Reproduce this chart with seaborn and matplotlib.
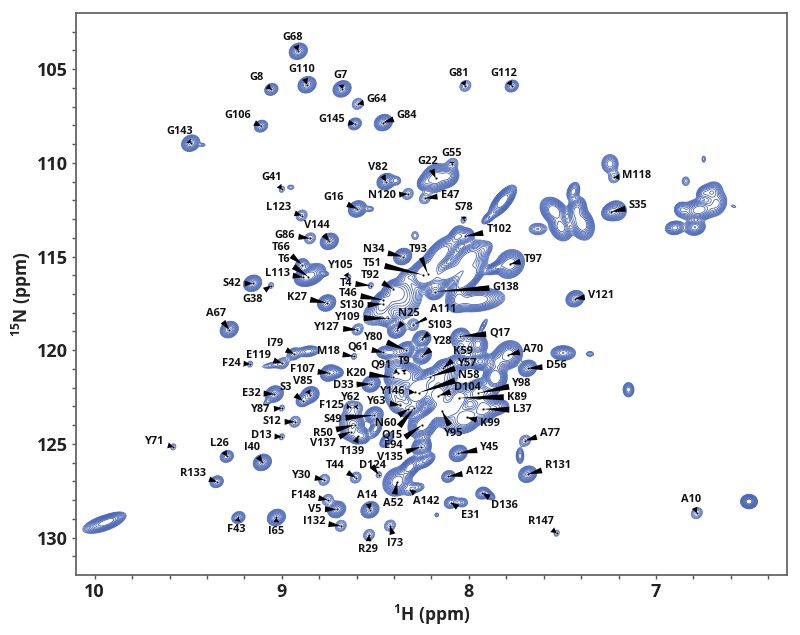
"""1H-15N HSQC spectrum with residue assignments."""

import matplotlib

matplotlib.use("Agg")
import matplotlib.pyplot as plt
import numpy as np
import seaborn as sns

# assigned peaks, ppm
names = [
    "G68", "G110", "G8", "G7", "G64", "G84", "G145", "G106", "G143", "G41",
    "V82", "G16", "N120", "G81", "G112", "G22", "G55", "M118", "E47", "S78",
    "S35", "T102", "T93", "T97", "N34", "T51", "G138", "A111", "N25", "S103",
    "Q17", "T4", "T92", "T46", "S130", "Y109", "Y127", "Y105", "K27", "A67",
    "G38", "S42", "L113", "T6", "T66", "G86", "V144", "L123", "V121", "I79",
    "E119", "F24", "M18", "Q61", "Y80", "Q91", "T9", "K20", "F107", "D33",
    "E32", "S3", "V85", "Y87", "Y146", "Y62", "F125", "Y63", "S12", "S49",
    "N60", "Q15", "R50", "V137", "T139", "D13", "T44", "D124", "Y30", "I40",
    "L26", "Y71", "R133", "F43", "I65", "F148", "V5", "I132", "A14", "R29",
    "I73", "A52", "Y28", "K59", "Y57", "N58", "D104", "Y98", "K89", "L37",
    "K99", "Y95", "A70", "D56", "E94", "V135", "Y45", "A122", "A77", "R131",
    "A142", "E31", "D136", "R147", "A10",
]
h_ppm = [
    8.912, 8.865, 9.056, 8.678, 8.594, 8.457, 8.610, 9.111, 9.487, 9.000,
    8.443, 8.596, 8.327, 8.019, 7.771, 8.178, 8.089, 7.223, 8.235, 8.028,
    7.242, 8.021, 8.220, 7.780, 8.354, 8.244, 8.181, 8.297, 8.386, 8.252,
    8.048, 8.525, 8.407, 8.457, 8.461, 8.431, 8.596, 8.645, 8.760, 9.281,
    9.058, 9.156, 8.885, 8.858, 8.892, 8.849, 8.746, 8.894, 7.433, 8.935,
    8.997, 9.170, 8.614, 8.457, 8.336, 8.379, 8.347, 8.404, 8.746, 8.523,
    9.040, 8.888, 8.849, 9.000, 8.288, 8.600, 8.635, 8.368, 8.930, 8.507,
    8.324, 8.293, 8.609, 8.632, 8.591, 9.000, 8.605, 8.482, 8.774, 9.104,
    9.294, 9.580, 9.348, 9.232, 9.029, 8.755, 8.707, 8.685, 8.529, 8.534,
    8.422, 8.383, 8.249, 8.137, 8.208, 8.267, 8.164, 7.950, 8.053, 7.923,
    8.012, 8.145, 7.790, 7.686, 8.249, 8.258, 8.057, 8.110, 7.700, 7.686,
    8.315, 8.096, 7.928, 7.531, 6.782,
]
n_ppm = [
    104.04, 105.83, 106.08, 106.05, 106.85, 107.85, 107.92, 108.04, 108.95, 111.41,
    111.00, 112.46, 111.66, 105.89, 105.90, 110.82, 110.05, 110.77, 111.89, 113.04,
    112.62, 113.92, 115.93, 115.40, 115.00, 115.98, 116.87, 118.65, 118.92, 119.40,
    119.26, 116.55, 116.73, 117.32, 117.53, 118.30, 118.90, 116.11, 117.48, 118.90,
    116.55, 116.43, 116.11, 116.08, 115.43, 114.03, 114.19, 112.81, 117.25, 120.20,
    120.70, 120.74, 120.33, 120.12, 119.99, 121.20, 121.20, 121.45, 121.22, 121.80,
    122.34, 122.70, 122.38, 123.09, 122.25, 123.09, 123.02, 122.93, 123.82, 123.46,
    123.14, 123.09, 123.98, 124.35, 124.57, 124.62, 126.80, 126.65, 126.92, 125.99,
    125.67, 125.16, 127.02, 128.93, 128.93, 127.99, 128.50, 129.38, 128.52, 129.86,
    129.36, 127.02, 120.29, 120.95, 121.42, 122.27, 122.43, 122.29, 122.55, 123.14,
    123.59, 123.23, 120.26, 120.97, 123.98, 125.16, 125.51, 126.74, 124.83, 126.62,
    127.45, 128.13, 127.63, 129.77, 128.70,
]

# where each assignment label sits, in figure pixels from the top left
label_x = [
    293, 302, 257, 341, 377, 407, 332, 238, 180, 272,
    378, 334, 382, 459, 504, 428, 452, 637, 450, 464,
    638, 499, 418, 533, 374, 372, 506, 443, 409, 440,
    500, 346, 370, 348, 352, 348, 327, 341, 297, 216,
    253, 232, 277, 284, 281, 285, 317, 279, 601, 275,
    258, 231, 328, 358, 374, 381, 404, 356, 302, 343,
    251, 286, 303, 261, 393, 351, 331, 377, 272, 333,
    386, 392, 323, 323, 352, 261, 335, 372, 302, 252,
    219, 155, 193, 236, 276, 303, 315, 314, 367, 368,
    395, 393, 443, 463, 468, 469, 467, 522, 517, 522,
    490, 454, 533, 556, 393, 390, 490, 479, 550, 558,
    426, 470, 504, 541, 691,
]
label_y = [
    37, 70, 78, 76, 100, 115, 120, 115, 132, 177,
    167, 198, 196, 73, 73, 161, 153, 176, 195, 208,
    206, 230, 249, 259, 250, 263, 287, 310, 314, 325,
    333, 283, 275, 294, 306, 318, 328, 265, 297, 313,
    299, 284, 273, 260, 247, 235, 226, 208, 295, 344,
    355, 363, 352, 347, 337, 365, 361, 373, 370, 385,
    393, 388, 382, 410, 391, 397, 406, 402, 422, 419,
    424, 435, 433, 444, 451, 436, 465, 466, 475, 448,
    443, 442, 474, 530, 531, 495, 509, 522, 495, 550,
    543, 503, 341, 352, 364, 376, 387, 384, 397, 410,
    423, 434, 349, 366, 446, 457, 448, 471, 433, 466,
    502, 516, 506, 521, 499,
]

# peak strength groups for the assigned peaks (everything else is "mid")
tiny_peaks = ["Y71", "G38", "D13", "Y87", "R147", "S78", "T4", "Y105", "F24",
              "M18", "D124", "Q61", "G41"]
weak_peaks = ["G81", "G64", "L123", "G86", "Y127", "A10", "A77", "Y30", "S12",
              "I132", "F148", "A111", "R29", "G55", "F125", "Y62", "T44", "E47",
              "N120", "A142", "I73", "M118", "E119"]
small_peaks = ["G8", "G112", "G106", "G145", "L26", "R133", "F43", "A122", "E31",
               "D136", "T66", "I79", "S3"]
big_peaks = ["T93", "T51", "D104", "K89", "L37", "K99", "Y95", "E94", "Y98", "N58",
             "Y146", "A52", "A70", "G22", "T97"]

# unassigned peaks and shoulders
extra_h = [
    7.442, 7.246, 6.745, 6.841, 6.585, 6.863, 6.770, 6.702, 6.748, 6.676,
    6.792, 6.899, 7.545, 7.508, 7.424, 7.397, 7.450, 7.632, 7.820, 7.896,
    8.113, 8.235, 8.386, 8.529, 8.952, 9.423, 7.210, 8.832, 8.769, 8.149,
    8.065, 8.288, 7.905, 8.324, 8.110, 8.003, 8.009, 7.958, 8.057, 7.851,
    8.386, 8.475, 7.950, 7.923, 8.422, 8.048, 7.940, 7.851, 7.860, 7.496,
    7.353, 7.147, 8.858, 9.045, 8.707, 9.080, 8.386, 8.332, 8.261, 8.092,
    8.208, 7.851, 7.887, 7.727, 8.315, 8.235, 8.280, 8.172, 8.038, 7.896,
    6.503, 9.954, 9.910, 8.440, 8.500, 8.560,
    8.207, 8.341, 8.155, 7.995, 8.048, 8.395, 8.235, 8.635,
]
extra_n = [
    111.53, 110.05, 109.80, 110.98, 112.32, 112.49, 112.51, 111.57, 111.62, 112.17,
    113.44, 113.47, 112.58, 113.44, 112.51, 113.26, 113.08, 113.53, 112.05, 112.94,
    110.71, 111.04, 110.95, 112.46, 111.30, 109.04, 112.55, 115.93, 115.93, 114.86,
    113.92, 113.88, 114.56, 116.07, 115.93, 115.13, 116.15, 117.32, 117.27, 115.58,
    117.00, 117.89, 119.67, 118.69, 120.12, 120.65, 120.60, 120.65, 121.45, 120.15,
    120.20, 122.11, 120.06, 120.79, 121.19, 122.79, 120.92, 121.45, 121.80, 123.14,
    123.59, 123.05, 122.25, 125.64, 126.26, 125.90, 127.33, 128.79, 128.13, 127.72,
    128.08, 129.25, 129.05, 124.80, 124.20, 124.60,
    115.64, 117.35, 121.63, 119.76, 123.76, 122.43, 125.10, 123.76,
]
extra_amp = [
    8, 8, 2, 2.5, 1.6, 8, 25, 14, 8, 12,
    14, 10, 30, 25, 20, 30, 4, 5, 30, 6,
    20, 10, 3, 2.5, 2, 1.8, 10, 15, 2.2, 30,
    14, 2.2, 3, 6, 30, 30, 40, 30, 20, 14,
    20, 15, 14, 3, 10, 12, 20, 14, 35, 14,
    2.5, 8, 8, 3, 6, 2, 10, 20, 20, 25,
    25, 12, 8, 6, 25, 12, 4, 1.8, 4, 6,
    25, 20, 10, 8, 8, 6,
    14, 12, 12, 6, 12, 8, 6, 10,
]
extra_sh = [
    .019, .024, .009, .016, .013, .021, .043, .027, .019, .027,
    .027, .027, .032, .027, .024, .029, .016, .029, .032, .021,
    .027, .021, .016, .016, .016, .013, .027, .032, .016, .043,
    .021, .016, .019, .027, .048, .048, .043, .064, .027, .032,
    .043, .043, .021, .016, .037, .032, .032, .021, .027, .032,
    .016, .016, .032, .043, .021, .016, .032, .037, .032, .037,
    .032, .032, .021, .012, .027, .027, .027, .011, .021, .021,
    .020, .050, .036, .020, .020, .016,
    .040, .045, .050, .050, .045, .030, .018, .030,
]
extra_sn = [
    .27, .27, .16, .19, .08, .21, .27, .27, .21, .32,
    .21, .19, .32, .32, .32, .37, .32, .19, .37, .19,
    .27, .21, .16, .11, .11, .08, .27, .27, .08, .43,
    .27, .19, .21, .21, .32, .43, .43, .27, .32, .19,
    .43, .37, .27, .27, .19, .21, .21, .27, .32, .19,
    .11, .21, .16, .13, .16, .16, .27, .32, .27, .32,
    .32, .21, .16, .24, .27, .21, .16, .11, .16, .16,
    .17, .24, .20, .21, .27, .21,
    .45, .50, .50, .30, .35, .35, .30, .35,
]
extra_tilt = [
    .3, .0, .0, .0, -.4, .0, .2, .2, .2, .2,
    .1, .1, -.3, -.2, .2, -.2, .0, .0, .7, .6,
    .1, .2, .0, .0, .0, .0, .0, .3, .0, .6,
    .3, .0, .3, .0, .5, .5, .7, .2, .2, .6,
    .5, .4, .0, .8, .0, .0, .0, .0, .0, .0,
    .0, .0, .2, .5, .0, .5, .0, .3, .5, .4,
    .7, .2, .0, .0, .5, .5, .2, .0, .0, -.5,
    .0, .6, .6, .5, .5, .0,
    .6, .3, .5, .0, .3, .0, .0, .2,
]

group_shapes = {
    "tiny": (2.0, 0.012, 0.14),
    "weak": (3.0, 0.020, 0.20),
    "small": (6.0, 0.019, 0.17),
    "mid": (12.0, 0.022, 0.20),
    "big": (28.0, 0.030, 0.30),
}

x_ticks = [10, 9, 8, 7]
y_ticks = [105, 110, 115, 120, 125, 130]
EXTRA_SCALE = 0.9


def _peak_group(name):
    for group, members in (("tiny", tiny_peaks), ("weak", weak_peaks),
                           ("small", small_peaks), ("big", big_peaks)):
        if name in members:
            return group
    return "mid"


def _spectrum(hh, nn):
    """Adds one tilted gaussian per peak on the ppm grid."""
    rows = [(h, n, *group_shapes[_peak_group(name)], 0.15)
            for name, h, n in zip(names, h_ppm, n_ppm)]
    rows += [(h, n, a, sh * EXTRA_SCALE, sn * EXTRA_SCALE, t)
             for h, n, a, sh, sn, t in zip(extra_h, extra_n, extra_amp,
                                           extra_sh, extra_sn, extra_tilt)]
    field = np.zeros_like(hh)
    for h0, n0, amp, sh, sn, tilt in rows:
        u = (hh - h0) / sh
        v = (nn - n0) / sn
        field += amp * np.exp(-0.5 * (u**2 + v**2 - 2 * tilt * u * v) / (1 - tilt**2))
    return field


sns.set_theme(style="ticks")
plt.rcParams.update({
    "font.family": ["Open Sans", "DejaVu Sans"],
    "font.weight": "bold",
    "axes.labelweight": "bold",
    "mathtext.fontset": "custom",
    "mathtext.bf": "Open Sans:bold",
    "mathtext.rm": "Open Sans:bold",
})

fig = plt.figure(figsize=(8, 6.35), dpi=100)
ax = fig.add_axes([76 / 800, 60 / 635, 711 / 800, 562 / 635])

h_axis = np.linspace(6.3, 10.1, 1250)
n_axis = np.linspace(102, 132, 950)
hh, nn = np.meshgrid(h_axis, n_axis)
levels = 1.0 * 1.3 ** np.arange(12)
ax.contour(hh, nn, _spectrum(hh, nn), levels=levels,
           colors=sns.blend_palette(["#4f6dbc", "#3a58ad"], len(levels)),
           linewidths=0.55)

sns.scatterplot(x=h_ppm, y=n_ppm, color="black", s=4, edgecolor="white",
                linewidth=0.4, ax=ax, legend=False, zorder=4)

for name, h, n, tx, ty in zip(names, h_ppm, n_ppm, label_x, label_y):
    px, py = ax.transData.transform((h, n))
    length = np.hypot(px - tx, py - (635 - ty))
    tail = min(0.55, 0.05 + 0.006 * length)
    ax.annotate(
        name, xy=(h, n), xytext=(tx, 635 - ty), textcoords="figure pixels",
        ha="center", va="center", fontsize=7.9, color="#111111", zorder=6,
        arrowprops=dict(arrowstyle=f"wedge,tail_width={tail:.2f},shrink_factor=0.5",
                        color="black", lw=0, shrinkA=0, shrinkB=0),
    )

ax.set_xlim(10.1, 6.3)
ax.set_ylim(132, 102)
ax.set_xticks(x_ticks)
ax.set_xticks(np.arange(6.4, 10.01, 0.2), minor=True)
ax.set_yticks(y_ticks)
ax.set_yticks(np.arange(103, 132), minor=True)
ax.tick_params(which="both", length=2.8, width=1.0, color="#555555")
ax.tick_params(which="major", labelsize=13, pad=3, labelcolor="#222222")
for spine in ax.spines.values():
    spine.set_visible(True)
    spine.set_color("#666666")
    spine.set_linewidth(1.3)

ax.set_xlabel(r"$\mathbf{^{1}H}$ (ppm)", fontsize=12.5, labelpad=1, color="#222222")
ax.set_ylabel(r"$\mathbf{^{15}N}$ (ppm)", fontsize=12.5, labelpad=2, color="#222222")

fig.savefig("out.png", dpi=100)
plt.close(fig)
